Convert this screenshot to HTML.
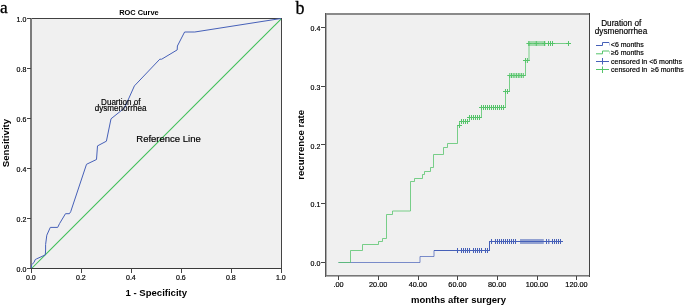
<!DOCTYPE html>
<html><head><meta charset="utf-8"><style>
html,body{margin:0;padding:0;background:#fff;width:685px;height:307px;overflow:hidden;}
svg{display:block;will-change:transform;}
text{white-space:pre;}
</style></head><body>
<svg width="685" height="307" viewBox="0 0 685 307">
<rect width="685" height="307" fill="#fff"/>
<rect x="31" y="18" width="250" height="250" fill="#f0f0f0"/>
<g shape-rendering="crispEdges">
<rect x="30" y="18" width="252" height="1" fill="#404040"/>
<rect x="30" y="268" width="252" height="1" fill="#3a3a3a"/>
<rect x="30" y="18" width="2" height="251" fill="#7c7c7c"/>
<rect x="281" y="18" width="1" height="251" fill="#444"/>
<line x1="27" y1="268.5" x2="31" y2="268.5" stroke="#444"/>
<line x1="31.5" y1="268" x2="31.5" y2="273" stroke="#444"/>
<line x1="27" y1="218.5" x2="31" y2="218.5" stroke="#444"/>
<line x1="81.5" y1="268" x2="81.5" y2="273" stroke="#444"/>
<line x1="27" y1="168.5" x2="31" y2="168.5" stroke="#444"/>
<line x1="131.5" y1="268" x2="131.5" y2="273" stroke="#444"/>
<line x1="27" y1="118.5" x2="31" y2="118.5" stroke="#444"/>
<line x1="181.5" y1="268" x2="181.5" y2="273" stroke="#444"/>
<line x1="27" y1="68.5" x2="31" y2="68.5" stroke="#444"/>
<line x1="231.5" y1="268" x2="231.5" y2="273" stroke="#444"/>
<line x1="27" y1="18.5" x2="31" y2="18.5" stroke="#444"/>
<line x1="281.5" y1="268" x2="281.5" y2="273" stroke="#444"/>
</g>
<line x1="32.1" y1="268" x2="281" y2="19.1" stroke="#3fbf58" stroke-width="1.05"/>
<polyline points="31.5,268 31.6,264.7 32.8,263.6 34,262.5 35.2,259.6 36.5,258.9 45.3,254.9 45.6,250 45.6,244.6 46.8,235.2 50.3,227.4 57.7,227.4 59.6,223.5 65.5,213.7 69.4,213.7 70.7,211.7 86.5,164.3 96.5,159.5 97.5,145.9 106.4,141.2 111,118.8 124.5,108 134.4,85.9 159.8,59.2 161.7,59.2 177.2,49.9 177.4,46 184.6,32 194.8,32 281,18.5" fill="none" stroke="#4660b8" stroke-width="1"/>
<g font-family="Liberation Sans, sans-serif" font-size="7" fill="#000" stroke="#000" stroke-width="0.18">
<text x="26.3" y="272" text-anchor="end">0.0</text>
<text x="30.9" y="279.8" text-anchor="middle">0.0</text>
<text x="26.3" y="222" text-anchor="end">0.2</text>
<text x="80.9" y="279.8" text-anchor="middle">0.2</text>
<text x="26.3" y="172" text-anchor="end">0.4</text>
<text x="130.9" y="279.8" text-anchor="middle">0.4</text>
<text x="26.3" y="122" text-anchor="end">0.6</text>
<text x="180.9" y="279.8" text-anchor="middle">0.6</text>
<text x="26.3" y="72" text-anchor="end">0.8</text>
<text x="230.9" y="279.8" text-anchor="middle">0.8</text>
<text x="26.3" y="22" text-anchor="end">1.0</text>
<text x="280.9" y="279.8" text-anchor="middle">1.0</text>
</g>
<text x="119.2" y="14.8" font-family="Liberation Sans, sans-serif" font-weight="bold" font-size="7.4">ROC Curve</text>
<text x="156.3" y="295.8" text-anchor="middle" font-family="Liberation Sans, sans-serif" font-weight="bold" font-size="9.55">1 - Specificity</text>
<text transform="translate(9.2,143) rotate(-90)" text-anchor="middle" font-family="Liberation Sans, sans-serif" font-weight="bold" font-size="9.7">Sensitivity</text>
<text x="168.5" y="141.8" text-anchor="middle" font-family="Liberation Sans, sans-serif" font-size="9.5" fill="#000" stroke="#000" stroke-width="0.18">Reference Line</text>
<text transform="translate(120.8,104.8) scale(0.95,1)" text-anchor="middle" font-family="Liberation Sans, sans-serif" font-size="8.5" fill="#000" stroke="#000" stroke-width="0.18">Duartion of</text>
<text transform="translate(120.6,111.4) scale(0.95,1)" text-anchor="middle" font-family="Liberation Sans, sans-serif" font-size="8.5" fill="#000" stroke="#000" stroke-width="0.18">dysmenorrhea</text>
<text x="0" y="13" font-family="Liberation Serif, serif" font-size="17.3" stroke="#000" stroke-width="0.3">a</text>
<rect x="325" y="14" width="264" height="261" fill="#f0f0f0"/>
<g shape-rendering="crispEdges">
<rect x="325" y="13" width="265" height="2" fill="#8a8a8a"/>
<rect x="325" y="275" width="265" height="1" fill="#777"/>
<rect x="325" y="276" width="265" height="1" fill="#b0b0b0"/>
<rect x="325" y="13" width="1" height="264" fill="#555"/>
<rect x="326" y="15" width="1" height="260" fill="#aaa"/>
<rect x="589" y="13" width="1" height="264" fill="#444"/>
<line x1="321" y1="262.5" x2="325" y2="262.5" stroke="#444"/>
<line x1="321" y1="203.5" x2="325" y2="203.5" stroke="#444"/>
<line x1="321" y1="144.5" x2="325" y2="144.5" stroke="#444"/>
<line x1="321" y1="86.5" x2="325" y2="86.5" stroke="#444"/>
<line x1="321" y1="27.5" x2="325" y2="27.5" stroke="#444"/>
<line x1="338.5" y1="276" x2="338.5" y2="280" stroke="#444"/>
<line x1="378.5" y1="276" x2="378.5" y2="280" stroke="#444"/>
<line x1="418.5" y1="276" x2="418.5" y2="280" stroke="#444"/>
<line x1="457.5" y1="276" x2="457.5" y2="280" stroke="#444"/>
<line x1="497.5" y1="276" x2="497.5" y2="280" stroke="#444"/>
<line x1="537.5" y1="276" x2="537.5" y2="280" stroke="#444"/>
<line x1="576.5" y1="276" x2="576.5" y2="280" stroke="#444"/>
</g>
<g font-family="Liberation Sans, sans-serif" font-size="7" fill="#000" stroke="#000" stroke-width="0.18">
<text x="320.3" y="266" text-anchor="end">0.0</text>
<text x="320.3" y="207.25" text-anchor="end">0.1</text>
<text x="320.3" y="148.5" text-anchor="end">0.2</text>
<text x="320.3" y="89.75" text-anchor="end">0.3</text>
<text x="320.3" y="31" text-anchor="end">0.4</text>
<text x="338.5" y="287" text-anchor="middle" font-size="7.3">.00</text>
<text x="378.17" y="287" text-anchor="middle" font-size="7.3">20.00</text>
<text x="417.83" y="287" text-anchor="middle" font-size="7.3">40.00</text>
<text x="457.5" y="287" text-anchor="middle" font-size="7.3">60.00</text>
<text x="497.17" y="287" text-anchor="middle" font-size="7.3">80.00</text>
<text x="536.83" y="287" text-anchor="middle" font-size="7.3">100.00</text>
<text x="576.5" y="287" text-anchor="middle" font-size="7.3">120.00</text>
</g>
<text transform="translate(303.5,144.8) rotate(-90)" text-anchor="middle" font-family="Liberation Sans, sans-serif" font-weight="bold" font-size="9.6">recurrence rate</text>
<text x="458.5" y="303" text-anchor="middle" font-family="Liberation Sans, sans-serif" font-weight="bold" font-size="9.5">months after surgery</text>
<text x="295.5" y="14.1" font-family="Liberation Serif, serif" font-size="18" stroke="#000" stroke-width="0.3">b</text>
<path d="M338.5,262.5 H420 V256.5 H434 V250.5" fill="none" stroke="#4660b8" stroke-width="1" stroke-opacity="0.7"/>
<path d="M434,250.5 H489.5 V241.5 H563" fill="none" stroke="#4660b8" stroke-width="1"/>
<path d="M457.5,248V253M455,250.5H460M461.5,248V253M459,250.5H464M463.5,248V253M461,250.5H466M465.5,248V253M463,250.5H468M467.5,248V253M465,250.5H470M469.5,248V253M467,250.5H472M473.5,248V253M471,250.5H476M475.5,248V253M473,250.5H478M477.5,248V253M475,250.5H480M479.5,248V253M477,250.5H482M481.5,248V253M479,250.5H484M485.5,248V253M483,250.5H488M487.5,248V253M485,250.5H490M491.5,239V244M489,241.5H494M495.5,239V244M493,241.5H498M497.5,239V244M495,241.5H500M499.5,239V244M497,241.5H502M501.5,239V244M499,241.5H504M503.5,239V244M501,241.5H506M505.5,239V244M503,241.5H508M507.5,239V244M505,241.5H510M509.5,239V244M507,241.5H512M511.5,239V244M509,241.5H514M513.5,239V244M511,241.5H516M515.5,239V244M513,241.5H518M546.5,239V244M544,241.5H549M548.8,239V244M546.3,241.5H551.3M552.5,239V244M550,241.5H555M554.5,239V244M552,241.5H557M556.5,239V244M554,241.5H559M558.5,239V244M556,241.5H561M560.5,239V244M558,241.5H563" fill="none" stroke="#4660b8" stroke-width="1"/>
<rect x="520" y="239" width="23.8" height="5" fill="#4660b8" opacity="0.55"/>
<path d="M338.5,262.5 H350.5 V250.5 H362.5 V244.5 H378.5 V241.5 H382.5 V238.5 H386.5 V214.5 H392.5 V211 H410.5 V181.5 H414.5 V178.5 H422.5 V174.5 H424.5 V171.5 H430.5 V167.5 H433.5 V154.5 H443.5 V147.5 H447.5 V143.5 H457.5 V125.5 H459.5 V121.5 H469.5 V117.5 H481.5 V107.5 H505.5 V91.5 H509.5 V75.5 H525.5 V60.5 H529 V43.5 H571" fill="none" stroke="#55c46a" stroke-width="1" stroke-opacity="0.78"/>
<path d="M459.5,123V128M457,125.5H462M461.5,119V124M459,121.5H464M463.5,119V124M461,121.5H466M465.5,119V124M463,121.5H468M467.5,119V124M465,121.5H470M469.5,115V120M467,117.5H472M471.5,115V120M469,117.5H474M473.5,115V120M471,117.5H476M475.5,115V120M473,117.5H478M477.5,115V120M475,117.5H480M479.5,115V120M477,117.5H482M481.5,105V110M479,107.5H484M483.5,105V110M481,107.5H486M485.5,105V110M483,107.5H488M487.5,105V110M485,107.5H490M489.5,105V110M487,107.5H492M491.5,105V110M489,107.5H494M493.5,105V110M491,107.5H496M495.5,105V110M493,107.5H498M497.5,105V110M495,107.5H500M499.5,105V110M497,107.5H502M501.5,105V110M499,107.5H504M503.5,105V110M501,107.5H506M505.5,89V94M503,91.5H508M507.5,89V94M505,91.5H510M509.8,73V78M507.3,75.5H512.3M511.5,73V78M509,75.5H514M513.2,73V78M510.7,75.5H515.7M514.9,73V78M512.4,75.5H517.4M516.6,73V78M514.1,75.5H519.1M518.3,73V78M515.8,75.5H520.8M519.9,73V78M517.4,75.5H522.4M521.6,73V78M519.1,75.5H524.1M523.3,73V78M520.8,75.5H525.8M525.5,58V63M523,60.5H528M527.4,58V63M524.9,60.5H529.9M528.9,41V46M526.4,43.5H531.4M536.3,41V46M533.8,43.5H538.8M544.5,41V46M542,43.5H547M548.5,41V46M546,43.5H551M550.5,41V46M548,43.5H553M552.5,41V46M550,43.5H555M568.5,41V46M566,43.5H571" fill="none" stroke="#55c46a" stroke-width="1"/>
<rect x="528" y="41" width="17.5" height="5" fill="#55c46a" opacity="0.5"/>
<text transform="translate(621.2,26) scale(0.965,1)" text-anchor="middle" font-family="Liberation Sans, sans-serif" font-size="8.5" fill="#000" stroke="#000" stroke-width="0.18">Duration of</text>
<text transform="translate(621,33.5) scale(0.965,1)" text-anchor="middle" font-family="Liberation Sans, sans-serif" font-size="8.5" fill="#000" stroke="#000" stroke-width="0.18">dysmenorrhea</text>
<path d="M596,45.5 H602.5 V42.5 H609" fill="none" stroke="#4660b8"/>
<path d="M609.5,42.5 V45.5" fill="none" stroke="#4660b8" opacity="0.4"/>
<path d="M596,53.8 H602.5 V51 H609" fill="none" stroke="#55c46a"/>
<path d="M609.5,51 V53.8" fill="none" stroke="#55c46a" opacity="0.4"/>
<path d="M596,61.5 H609 M602.5,58 V64.5" fill="none" stroke="#4660b8"/>
<path d="M596,69.5 H609 M602.5,66.5 V73" fill="none" stroke="#55c46a"/>
<g font-family="Liberation Sans, sans-serif" font-size="7" fill="#000" stroke="#000" stroke-width="0.18">
<text x="610.8" y="46.9">&lt;6 months</text>
<text x="611" y="55.3">≥6 months</text>
<text x="611" y="63.7">censored in &lt;6 months</text>
<text x="611" y="72.1">censored in  ≥6 months</text>
</g>
</svg>
</body></html>
